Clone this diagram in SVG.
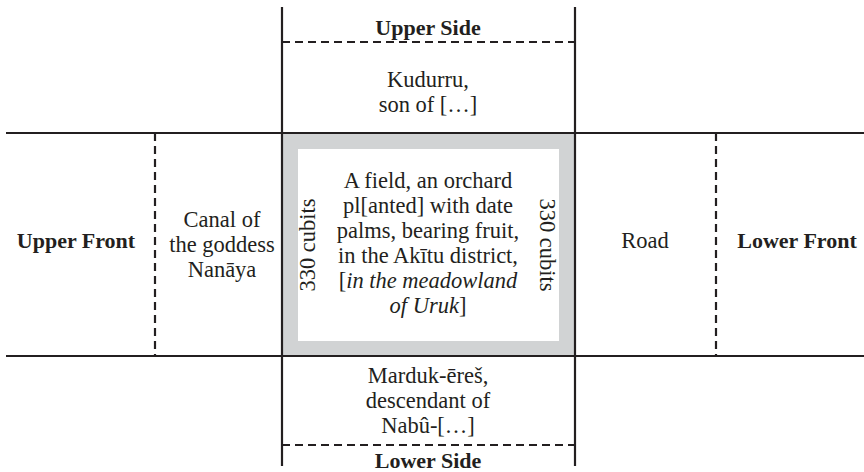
<svg xmlns="http://www.w3.org/2000/svg" width="864" height="472" viewBox="0 0 864 472">
<style>
.solid{stroke:#231f20;stroke-width:2.2;fill:none}
.dash{stroke:#231f20;stroke-width:2.2;fill:none;stroke-dasharray:8 5}
text{font-family:"Liberation Serif","Times New Roman",serif;font-size:22.5px;fill:#231f20;text-anchor:middle}
.b{font-weight:bold;font-size:22px}
.i{font-style:italic}
</style>
<rect width="864" height="472" fill="#ffffff"/>
<g id="field">
<rect x="283" y="134" width="291" height="221" fill="#d1d3d4"/>
<rect x="298" y="149" width="261" height="192" fill="#ffffff"/>
<text x="428" y="188">A field, an orchard</text>
<text x="428" y="213">pl[anted] with date</text>
<text x="428" y="238">palms, bearing fruit,</text>
<text x="428" y="263">in the Akītu district,</text>
<text x="428" y="288">[<tspan class="i">in the meadowland</tspan></text>
<text x="428" y="313"><tspan class="i">of Uruk</tspan>]</text>
<text transform="translate(315,245) rotate(-90)">330 cubits</text>
<text transform="translate(540,245) rotate(90)">330 cubits</text>
</g>
<g id="connectors">
<line class="solid" x1="6" y1="133" x2="864" y2="133"/>
<line class="solid" x1="6" y1="356" x2="864" y2="356"/>
<line class="solid" x1="282" y1="7" x2="282" y2="466"/>
<line class="solid" x1="575" y1="7" x2="575" y2="466"/>
<line class="dash" x1="282" y1="42" x2="575" y2="42"/>
<line class="dash" x1="282" y1="445" x2="575" y2="445"/>
<line class="dash" x1="155" y1="133" x2="155" y2="356"/>
<line class="dash" x1="716" y1="133" x2="716" y2="356"/>
</g>
<g id="upper-side"><text class="b" x="428" y="35">Upper Side</text></g>
<g id="kudurru">
<text x="428" y="87">Kudurru,</text>
<text x="428" y="112">son of […]</text>
</g>
<g id="upper-front"><text class="b" x="76" y="248">Upper Front</text></g>
<g id="canal">
<text x="222" y="227">Canal of</text>
<text x="222" y="252">the goddess</text>
<text x="222" y="277">Nanāya</text>
</g>
<g id="road"><text x="645" y="248">Road</text></g>
<g id="lower-front"><text class="b" x="797" y="248">Lower Front</text></g>
<g id="marduk">
<text x="428" y="383">Marduk-ēreš,</text>
<text x="428" y="408">descendant of</text>
<text x="428" y="433">Nabû-[…]</text>
</g>
<g id="lower-side"><text class="b" x="428" y="468">Lower Side</text></g>
</svg>
